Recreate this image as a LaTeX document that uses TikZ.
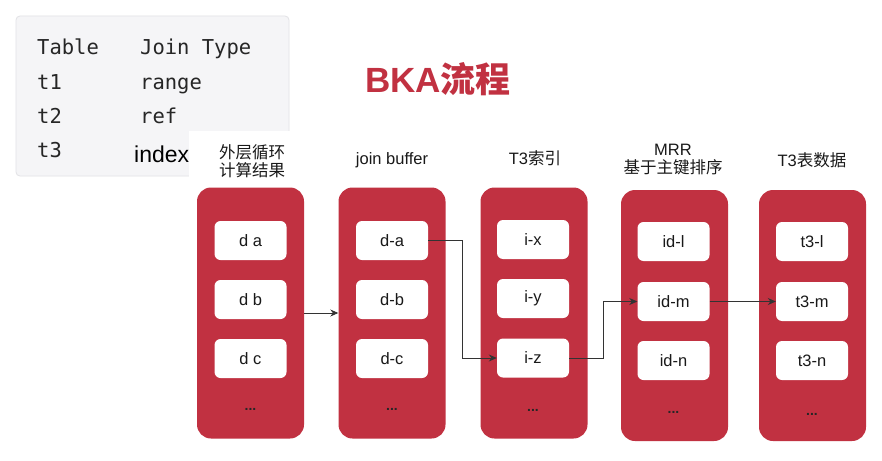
\documentclass[tikz,border=0pt]{standalone}
\usepackage{fontspec}
\setmainfont{Liberation Sans}
\newfontfamily\cjk{Noto Sans CJK SC}
\newfontfamily\monofam{DejaVu Sans Mono}
\usetikzlibrary{arrows.meta}
\definecolor{bkared}{HTML}{C13141}
\definecolor{tablebg}{HTML}{F5F5F7}
\definecolor{tableline}{HTML}{E2E2E6}
\begin{document}
\begin{tikzpicture}[x=1pt,y=-1pt,
  colbox/.style={fill=bkared, draw=none, rounded corners=14pt, minimum width=107pt, minimum height=251pt, inner sep=0pt},
  cell/.style={fill=white, draw=none, rounded corners=6pt, minimum width=72pt, minimum height=39pt, inner sep=0pt, font=\fontsize{16.5}{18}\selectfont, text=black!90},
  dotstxt/.style={font=\bfseries\fontsize{14}{18}\selectfont, text=black!85},
  lbl/.style={font=\fontsize{16.5}{18}\selectfont, align=center, text=black!90},
  monotxt/.style={font=\monofam\fontsize{20.5}{24}\selectfont, anchor=base west, text=black!85, inner sep=0pt},
  flow/.style={draw=black!80, line width=0.9pt, -{Stealth[length=8pt,width=7pt]}}
]
\useasboundingbox (0,0) rectangle (882,460);
\fill[white] (0,0) rectangle (882,460);

% table box
\draw[fill=tablebg, draw=tableline, line width=0.8pt, rounded corners=4pt] (16,16) rectangle (289,176);
\node[monotxt] (th1) at (37,55) {Table};
\node[monotxt] (th2) at (140,55) {Join Type};
\node[monotxt] (r1a) at (37,89) {t1};
\node[monotxt] (r1b) at (140,89) {range};
\node[monotxt] (r2a) at (37,123) {t2};
\node[monotxt] (r2b) at (140,123) {ref};
\node[monotxt] (r3a) at (37,157) {t3};
\node[font=\fontsize{23}{26}\selectfont, anchor=base west, inner sep=0pt] (r3b) at (134,162) {index};
\fill[white] (189,131) rectangle (300,186);

% title
\node[font=\bfseries\fontsize{35}{40}\selectfont, text=bkared] (title) at (438,79) {BKA{\cjk\bfseries 流程}};

% labels
\node[lbl] (l1) at (252,161) {{\cjk 外层循环}\\{\cjk 计算结果}};
\node[lbl] (l2) at (392,160) {join buffer};
\node[lbl] (l3) at (535,158) {T3{\cjk 索引}};
\node[lbl] (l4) at (673,160) {MRR\\{\cjk 基于主键排序}};
\node[lbl] (l5) at (812,160) {T3{\cjk 表数据}};

% columns
\node[colbox] (c1) at (250.5,313) {};
\node[colbox] (c2) at (392,313) {};
\node[colbox] (c3) at (534,313) {};
\node[colbox] (c4) at (674.5,315.5) {};
\node[colbox] (c5) at (812.5,315.5) {};

% cells
\node[cell] (da) at (250.5,240.5) {d a};
\node[cell] (db) at (250.5,299.5) {d b};
\node[cell] (dc) at (250.5,358.5) {d c};
\node[dotstxt] (d1) at (250.5,409) {...};

\node[cell] (jda) at (392,240.5) {d-a};
\node[cell] (jdb) at (392,299.5) {d-b};
\node[cell] (jdc) at (392,358.5) {d-c};
\node[dotstxt] (d2) at (392,409) {...};

\node[cell] (ix) at (533,239.5) {i-x};
\node[cell] (iy) at (533,298.5) {i-y};
\node[cell] (iz) at (533,358) {i-z};
\node[dotstxt] (d3) at (533,410) {...};

\node[cell] (idl) at (673.5,241.5) {id-l};
\node[cell] (idm) at (673.5,301.5) {id-m};
\node[cell] (idn) at (673.5,360.5) {id-n};
\node[dotstxt] (d4) at (673.5,412) {...};

\node[cell] (tl) at (812,241.5) {t3-l};
\node[cell] (tm) at (812,301.5) {t3-m};
\node[cell] (tn) at (812,360.5) {t3-n};
\node[dotstxt] (d5) at (812,414) {...};

% connectors
\draw[flow] (c1.east) -- (c2.west);
\draw[flow] (jda.east) -- ++(34,0) |- (iz.west);
\draw[flow] (iz.east) -- ++(34,0) |- (idm.west);
\draw[flow] (idm.east) -- (tm.west);
\end{tikzpicture}
\end{document}
